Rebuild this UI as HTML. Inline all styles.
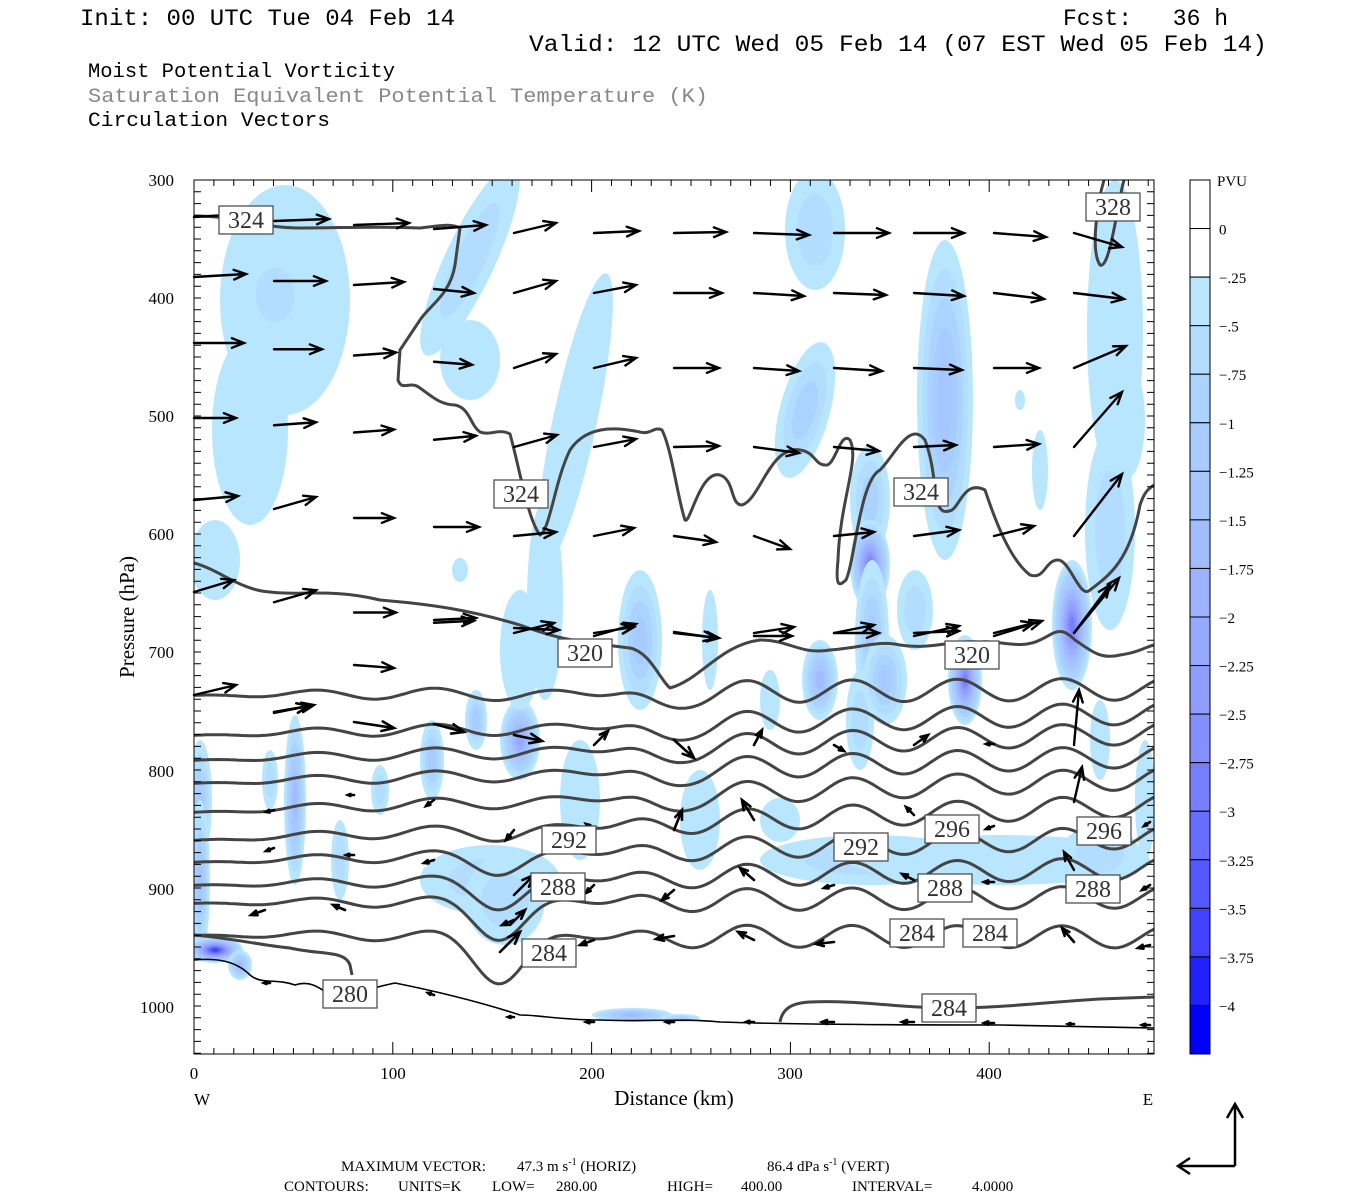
<!DOCTYPE html>
<html><head><meta charset="utf-8">
<style>
html,body{margin:0;padding:0;background:#fff;}
svg{display:block;}
.t{font-family:"Liberation Mono",monospace;}
.s{font-family:"Liberation Serif",serif;}
</style></head>
<body>
<svg id="g" width="1350" height="1200" viewBox="0 0 1350 1200" xmlns="http://www.w3.org/2000/svg">
<rect width="1350" height="1200" fill="#fff"/>
<g id="pv"></g>
<g id="ct" fill="none" stroke="#444" stroke-width="3" stroke-linejoin="round"></g>
<g id="ar" fill="none" stroke="#000" stroke-width="2.4" stroke-linecap="round"></g>
<g id="lb"></g>
<g id="ax" stroke="#000" stroke-width="1" fill="none"></g>
<g id="cb"></g>
<text x="80" y="25" class="t" font-size="23" fill="#000" textLength="375" lengthAdjust="spacingAndGlyphs">Init: 00 UTC Tue 04 Feb 14</text>
<text x="1063" y="25" class="t" font-size="23" fill="#000">Fcst:</text>
<text x="1228" y="25" class="t" font-size="23" fill="#000" text-anchor="end">36 h</text>
<text x="529" y="51" class="t" font-size="23" fill="#000" textLength="738" lengthAdjust="spacingAndGlyphs">Valid: 12 UTC Wed 05 Feb 14 (07 EST Wed 05 Feb 14)</text>
<text x="88" y="77" class="t" font-size="20.5" fill="#000" textLength="307" lengthAdjust="spacingAndGlyphs">Moist Potential Vorticity</text>
<text x="88" y="102" class="t" font-size="20.5" fill="#888" textLength="620" lengthAdjust="spacingAndGlyphs">Saturation Equivalent Potential Temperature (K)</text>
<text x="88" y="126" class="t" font-size="20.5" fill="#000" textLength="242" lengthAdjust="spacingAndGlyphs">Circulation Vectors</text>
<g class="s" font-size="17" text-anchor="end" fill="#000">
<text x="174" y="186">300</text><text x="174" y="304">400</text><text x="174" y="422">500</text>
<text x="174" y="540">600</text><text x="174" y="658">700</text><text x="174" y="777">800</text>
<text x="174" y="895">900</text><text x="174" y="1013">1000</text>
</g>
<g class="s" font-size="17" text-anchor="middle" fill="#000">
<text x="194" y="1079">0</text><text x="393" y="1079">100</text><text x="592" y="1079">200</text>
<text x="790" y="1079">300</text><text x="989" y="1079">400</text>
<text x="202" y="1105">W</text><text x="1148" y="1105">E</text>
</g>
<text x="674" y="1105" class="s" font-size="21" text-anchor="middle">Distance (km)</text>
<text transform="translate(134,617) rotate(-90)" class="s" font-size="21" text-anchor="middle">Pressure (hPa)</text>
<g class="s" font-size="15">
<text x="341" y="1171">MAXIMUM VECTOR:</text>
<text x="517" y="1171">47.3 m s<tspan dy="-6" font-size="10">-1</tspan><tspan dy="6"> (HORIZ)</tspan></text>
<text x="767" y="1171">86.4 dPa s<tspan dy="-6" font-size="10">-1</tspan><tspan dy="6"> (VERT)</tspan></text>
<text x="284" y="1191">CONTOURS:</text>
<text x="398" y="1191">UNITS=K</text>
<text x="492" y="1191">LOW=</text>
<text x="556" y="1191">280.00</text>
<text x="667" y="1191">HIGH=</text>
<text x="741" y="1191">400.00</text>
<text x="852" y="1191">INTERVAL=</text>
<text x="972" y="1191">4.0000</text>
</g>
<g stroke="#000" stroke-width="2.5" fill="none">
<path d="M1235 1166 H1178 M1190 1158 L1178 1166 L1190 1174"/>
<path d="M1235 1166 V1104 M1227 1118 L1235 1104 L1243 1118"/>
</g>
</svg>
<script>
var NS="http://www.w3.org/2000/svg";
function el(p,t,a){var e=document.createElementNS(NS,t);for(var k in a)e.setAttribute(k,a[k]);p.appendChild(e);return e;}
function hex(c){return "#"+c.map(function(v){v=Math.round(v);return (v<16?"0":"")+v.toString(16);}).join("");}
var stops=[[185,230,255],[170,210,255],[165,196,255],[155,175,255],[140,150,255],[110,115,255],[70,70,255],[0,0,255]];
var C=[];for(var i=0;i<16;i++){var f=i/15*(stops.length-1),a=Math.floor(f),b=Math.min(a+1,stops.length-1),t=f-a;C.push(hex([0,1,2].map(function(j){return stops[a][j]*(1-t)+stops[b][j]*t;})));}
var pv=document.getElementById("pv");
var clip=el(pv,"clipPath",{id:"cp"});el(clip,"rect",{x:194,y:180,width:960,height:874});
var pg=el(pv,"g",{"clip-path":"url(#cp)"});
function blob(cx,cy,rx,ry,n,rot){rot=rot||0;for(var i=0;i<n;i++){var s=1-i/(n+0.5);el(pg,"ellipse",{cx:cx,cy:cy,rx:rx*s,ry:ry*s,fill:C[Math.min(i,15)],transform:"rotate("+rot+" "+cx+" "+cy+")"});}}
var B=[[285,300,65,115,1],[250,430,38,95,1],[275,295,32,45,2],[215,560,25,40,1],[470,260,25,105,2,25],[470,360,30,40,1],[575,420,22,150,1,12],[545,600,18,100,1],
[815,230,30,60,2],[805,410,25,70,3,15],[945,400,28,160,5],[1115,330,28,150,1],[1040,470,8,40,1],[870,500,20,55,3],[870,565,20,45,11],[872,640,17,80,4],[860,720,14,50,2],
[1072,625,20,65,11],[1110,530,25,100,2],[1125,420,20,60,1],[965,680,17,45,11],[820,680,18,40,6],[885,680,22,45,4],[915,610,18,40,2],[640,640,22,70,4],[520,740,20,40,8],[520,650,20,60,1],
[476,720,11,30,4],[432,760,12,40,4],[295,800,11,85,6],[200,800,12,60,4],[200,880,10,80,5],[270,780,8,30,2],[380,790,9,25,2],[340,860,9,40,2],[460,570,8,12,1],
[490,880,70,35,2],[505,900,40,45,2],[580,800,20,60,1],[700,820,20,50,1],[780,820,20,22,1],[870,860,110,25,2],[1000,860,150,25,1],[1100,855,40,30,2],[1145,800,10,60,1],[1100,740,10,40,1],
[770,700,10,30,1],[710,640,8,50,1],[215,950,28,13,14],[240,965,12,15,6],[632,1015,40,7,6],[680,1018,20,4,3],[1020,400,5,10,1]];
B.forEach(function(b){blob(b[0],b[1],b[2],b[3],b[4],b[5]);});
var ct=document.getElementById("ct");
function pth(pts){return "M"+pts.map(function(p){return p[0].toFixed(1)+" "+p[1].toFixed(1);}).join(" L");}
var L=[[695,689],[735,713],[760,733],[783,756],[812,778],[840,805],[862,837],[885,868],[903,897],[935,937]];
L.forEach(function(l,i){var pts=[];for(var x=194;x<=1154;x+=4){var t=(x-194)/960;var y=l[0]*(1-t)+l[1]*t;
var w=1/(1+Math.exp(-(x-620)/25));var amp=2.5+8.5*w;
y-=amp*Math.cos(2*Math.PI*(x-747)/105);
y+=3*Math.sin(2*Math.PI*(x-194)/140)*(1-w);
var dd=i>=5?(8+(i-5)*9):3;y+=dd*Math.exp(-Math.pow((x-500)/35,2));
y+=(i<5?15:4)*Math.exp(-Math.pow((x-660)/30,2));pts.push([x,y]);}
el(ct,"path",{d:pth(pts)});});
el(ct,"path",{d:"M194 563 C220 570 240 590 270 592 C300 596 330 588 380 600 C430 604 470 610 520 625 C560 640 580 642 630 648 C650 652 660 680 670 688 C700 680 720 645 760 640 C790 640 800 655 830 650 C860 648 880 640 900 645 C930 650 950 640 980 642 C1000 640 1020 650 1040 640 C1055 633 1060 625 1075 640 C1090 650 1100 660 1120 655 C1140 652 1145 647 1154 645"});
el(ct,"path",{d:"M194 216 C240 216 260 228 300 228 C340 228 380 226 420 228 C440 226 450 223 460 228 L455 265 C450 295 430 305 420 320 L400 350 L398 380 C402 392 410 380 420 388 C430 395 440 405 455 405 C470 408 470 425 480 432 C490 436 500 428 510 434 C520 470 528 520 540 535 C550 530 555 480 570 450 C590 420 630 430 640 432 C650 435 655 426 662 430 C672 450 678 500 685 520 C690 525 700 470 720 475 C735 480 730 505 742 505 C760 500 770 445 800 450 C815 452 815 465 825 465 C835 468 840 430 850 440 C860 460 840 500 838 560 C835 590 840 585 846 580 C855 560 860 480 880 470 C895 455 910 420 925 440 C940 480 930 520 952 510 C960 505 965 480 985 490 C995 520 1010 560 1030 575 C1045 580 1045 560 1058 560 C1070 560 1080 600 1090 590 C1110 575 1130 560 1140 505 C1145 490 1150 488 1154 485"});
el(ct,"path",{d:"M1104 180 C1098 200 1090 250 1100 265 C1110 270 1118 200 1124 180"});
el(ct,"path",{d:"M780 1022 C782 1010 790 1003 810 1002 C860 1000 900 1008 950 1008 C1000 1008 1050 1002 1100 999 L1154 997"});
el(ct,"path",{d:"M194 935 C230 938 260 945 290 948 C320 955 345 950 350 965 L352 975"});
el(ct,"path",{d:"M194 960 C215 958 235 960 250 975 C262 985 275 978 295 985 C310 980 320 988 330 995 C345 1000 360 990 395 983 C440 992 480 1002 520 1015 C540 1015 560 1020 600 1020 C650 1022 680 1018 720 1022 C780 1024 900 1025 1000 1025 L1154 1028","stroke":"#000","stroke-width":"1.6"});
var ar=document.getElementById("ar");
function arrow(x,y,dx,dy,w){var len=Math.hypot(dx,dy);if(len<1)return;var ux=dx/len,uy=dy/len;var h=Math.min(13,len*0.45);var x2=x+dx,y2=y+dy;
var a=0.38;var c=Math.cos(a),s=Math.sin(a);
var p1=[x2-h*(ux*c-uy*s),y2-h*(uy*c+ux*s)],p2=[x2-h*(ux*c+uy*s),y2-h*(uy*c-ux*s)];
var g={d:"M"+x+" "+y+" L"+x2+" "+y2+" M"+p1[0]+" "+p1[1]+" L"+x2+" "+y2+" L"+p2[0]+" "+p2[1]};if(w)g["stroke-width"]=w;el(ar,"path",g);}
var y0=[217,277,343,418,500,592],y4=[233,293,368,447,536,633];
var V=[[[50,-3],[55,-2],[55,-2],[52,-4],[42,-10],[45,-2],[52,-1],[55,2],[55,0],[50,0],[52,4],[48,14]],
[[52,-3],[52,0],[50,-3],[40,4],[42,-12],[42,-8],[48,0],[50,3],[52,2],[50,3],[50,6],[50,6]],
[[50,0],[48,0],[42,-3],[38,3],[42,-14],[42,-10],[45,0],[45,3],[48,3],[48,2],[45,0],[52,-22]],
[[42,0],[42,-3],[40,-3],[42,-4],[43,-12],[42,-8],[45,-1],[45,6],[45,4],[42,-2],[45,-3],[48,-55]],
[[44,-4],[42,-12],[40,0],[45,0],[42,-4],[40,-8],[42,6],[36,13],[40,-4],[45,-6],[40,-10],[48,-62]],
[[40,-12],[42,-12],[42,0],[40,-2],[40,-10],[40,-6],[45,5],[40,-6],[40,-8],[45,-2],[40,-10],[45,-55]]];
for(var r=0;r<6;r++)for(var k=0;k<12;k++){var yy=k>=4?y4[r]:y0[r]+(y4[r]-y0[r])*k/4;var v=V[r][k];arrow(194+80*k,yy,v[0],v[1]);}
[[194,695,42,-10],[274,713,40,-8],[354,665,40,3],[434,620,42,-2],[514,628,45,2],[594,636,42,-12],[674,632,42,6],[754,636,38,0],[834,633,45,0],[914,636,45,-10],[994,636,48,-15],[1074,633,36,-48],[1074,745,5,-55],[1074,802,8,-35],[1074,870,-10,-18]].forEach(function(a){arrow(a[0],a[1],a[2],a[3]);});
var S=[[274,712,35,-6],[354,722,40,6],[434,724,30,8],[514,735,28,6],[594,745,14,-14],[674,740,20,18],[754,745,8,-15],[834,745,10,6],[914,745,14,-10],[994,744,-8,0],[1114,830,-6,-6],[274,848,-8,3],[354,855,-8,0],[434,860,-10,3],[514,830,-8,10],[594,885,-8,8],[674,890,-12,10],[754,880,-14,-12],[834,885,-10,3],[914,880,-12,-6],[994,882,-10,0],[1150,885,-8,5],
[274,810,-8,2],[354,795,-6,0],[434,800,-8,6],[514,920,-12,5],[594,940,-14,5],[674,936,-18,3],[754,940,-16,-8],[834,942,-18,2],[914,942,-20,1],[994,942,-20,0],[1074,942,-12,-14],[1150,945,-12,3],[345,910,-12,-5],[265,910,-14,5],[514,895,20,-20],[594,830,-8,-6],[510,925,15,-15],[500,952,20,-20],[674,830,8,-20],[754,820,-12,-20],[914,815,-8,-8],[434,995,-6,-2],[270,983,-6,0],[514,1017,-6,0],[594,1022,-8,0],[674,1022,-8,0],[754,1022,-8,0],[834,1022,-12,0],[914,1022,-12,0],[994,1023,-10,0],[1074,1024,-6,0],[1150,1025,-8,0],[994,826,-8,3],[1150,822,-6,4]];
S.forEach(function(a){arrow(a[0],a[1],a[2],a[3],2.6);});
var lb=document.getElementById("lb");
[[246,220,"324"],[1113,207,"328"],[521,494,"324"],[921,492,"324"],[585,653,"320"],[972,655,"320"],[569,840,"292"],[861,847,"292"],[952,829,"296"],[1104,831,"296"],[558,887,"288"],[945,888,"288"],[1093,889,"288"],[549,953,"284"],[917,933,"284"],[990,933,"284"],[949,1008,"284"],[350,994,"280"]].forEach(function(q){
el(lb,"rect",{x:q[0]-27,y:q[1]-14,width:54,height:28,fill:"#fff",stroke:"#444","stroke-width":1.2});
var t=el(lb,"text",{x:q[0],y:q[1]+8,"text-anchor":"middle","font-family":"Liberation Serif, serif","font-size":"24",fill:"#333"});t.textContent=q[2];});
var ax=document.getElementById("ax");
el(ax,"rect",{x:194,y:180,width:960,height:874});
var d="";for(var p=300;p<=1040;p+=10){var y=180+(p-300)*1.18;d+="M194 "+y+" h7 M1154 "+y+" h-7 ";}
for(var km=0;km<=483;km+=10){var x=194+km*1.988;var l=(km%100==0)?12:6;d+="M"+x+" 1054 v-"+l+" M"+x+" 180 v"+l+" ";}
el(ax,"path",{d:d});
var cb=document.getElementById("cb");var h=874/18;
for(var i=0;i<18;i++){el(cb,"rect",{x:1190,y:180+i*h,width:20,height:h,fill:i<2?"#fff":C[i-2],stroke:"#000","stroke-width":1});}
var labs=["0","−.25","−.5","−.75","−1","−1.25","−1.5","−1.75","−2","−2.25","−2.5","−2.75","−3","−3.25","−3.5","−3.75","−4"];
labs.forEach(function(s,i){var t=el(cb,"text",{x:1219,y:180+(i+1)*h+6,"font-family":"Liberation Serif, serif","font-size":"15"});t.textContent=s;});
var t=el(cb,"text",{x:1217,y:186,"font-family":"Liberation Serif, serif","font-size":"15"});t.textContent="PVU";
</script>
</body></html>
